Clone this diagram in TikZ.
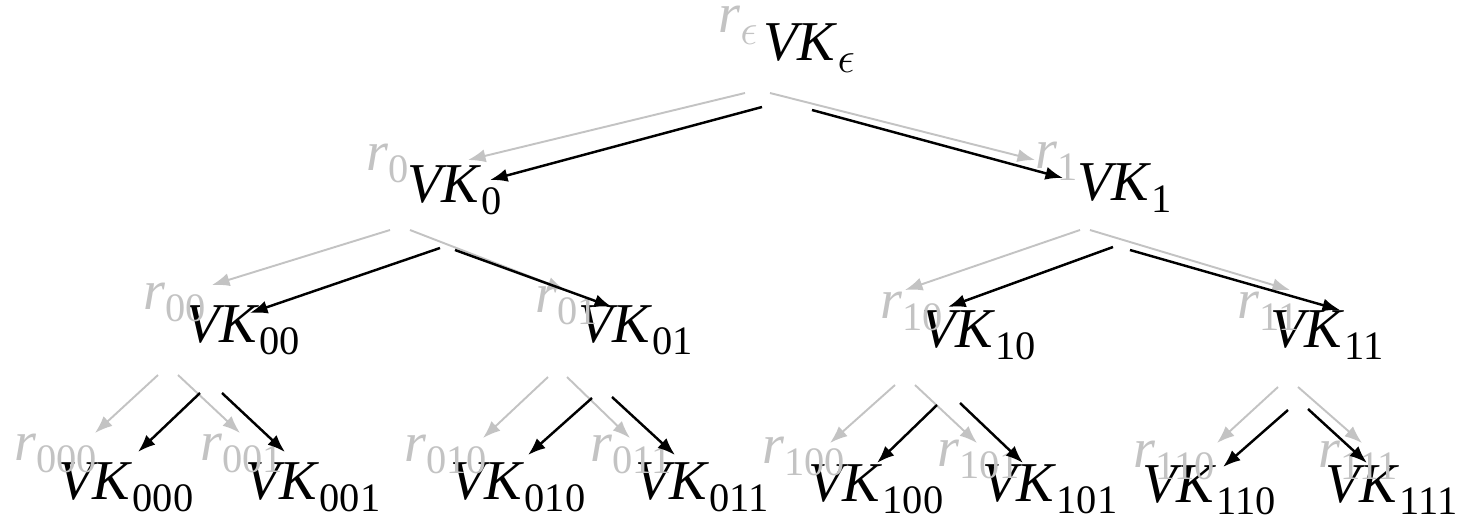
\documentclass[tikz,border=0pt]{standalone}
\usepackage{fontspec}
\setmainfont{Liberation Serif}
\usetikzlibrary{arrows.meta}

\definecolor{rgray}{RGB}{195,195,195}
\newcommand{\subsz}{\fontsize{23}{26}\selectfont}
\newcommand{\vk}[1]{\textit{VK}\raisebox{-7pt}{\subsz #1}}
\newcommand{\rk}[1]{\textit{r}\raisebox{-7pt}{\subsz #1}}

\begin{document}
\begin{tikzpicture}[
  x=0.02cm, y=-0.02cm,
  every node/.style = {anchor=base west, inner sep=0pt, font=\fontsize{32}{38}\selectfont},
  key/.style = {text=black},
  rlab/.style = {text=rgray},
  karrow/.style = {-{Latex[length=10pt,width=7.5pt]}, line width=1.4pt},
  rarrow/.style = {-{Latex[length=10pt,width=7.5pt]}, line width=1.1pt, draw=rgray}
]
\useasboundingbox (0,0) rectangle (1464,518);

% --- key nodes
\node[key] (ke)   at (763,60)   {\vk{$\epsilon$}};
\node[key] (k0)   at (407,202)  {\vk{0}};
\node[key] (k1)   at (1077,200) {\vk{1}};
\node[key] (k00)  at (185,342)  {\vk{00}};
\node[key] (k01)  at (578,342)  {\vk{01}};
\node[key] (k10)  at (921,347)  {\vk{10}};
\node[key] (k11)  at (1270,347) {\vk{11}};
\node[key] (k000) at (58,499)   {\vk{000}};
\node[key] (k001) at (245,499)  {\vk{001}};
\node[key] (k010) at (450,499)  {\vk{010}};
\node[key] (k011) at (635,499)  {\vk{011}};
\node[key] (k100) at (808,501)  {\vk{100}};
\node[key] (k101) at (982,501)  {\vk{101}};
\node[key] (k110) at (1142,502) {\vk{110}};
\node[key] (k111) at (1325,502) {\vk{111}};

% --- r labels
\node[rlab] (re)   at (718,32)   {\rk{$\epsilon$}};
\node[rlab] (r0)   at (366,170)  {\rk{0}};
\node[rlab] (r1)   at (1035,168) {\rk{1}};
\node[rlab] (r00)  at (143,309)  {\rk{00}};
\node[rlab] (r01)  at (535,312)  {\rk{01}};
\node[rlab] (r10)  at (880,318)  {\rk{10}};
\node[rlab] (r11)  at (1237,318) {\rk{11}};
\node[rlab] (r000) at (14,460)   {\rk{000}};
\node[rlab] (r001) at (200,460)  {\rk{001}};
\node[rlab] (r010) at (404,461)  {\rk{010}};
\node[rlab] (r011) at (590,461)  {\rk{011}};
\node[rlab] (r100) at (762,463)  {\rk{100}};
\node[rlab] (r101) at (937,466)  {\rk{101}};
\node[rlab] (r110) at (1133,467) {\rk{110}};
\node[rlab] (r111) at (1318,467) {\rk{111}};

% --- gray tree
\draw[rarrow] ([shift={(27,61)}]re.base west) -- ([shift={(102,-10)}]r0.base west);
\draw[rarrow] ([shift={(52,61)}]re.base west) -- ([shift={(0,-8)}]r1.base west);
\draw[rarrow] ([shift={(24,60)}]r0.base west) -- ([shift={(69,-24)}]r00.base west);
\draw[rarrow] ([shift={(44,60)}]r0.base west) -- ([shift={(30,-22)}]r01.base west);
\draw[rarrow] ([shift={(45,62)}]r1.base west) -- ([shift={(25,-28)}]r10.base west);
\draw[rarrow] ([shift={(55,62)}]r1.base west) -- ([shift={(53,-28)}]r11.base west);
\draw[rarrow] ([shift={(15,66)}]r00.base west) -- ([shift={(81,-27)}]r000.base west);
\draw[rarrow] ([shift={(35,66)}]r00.base west) -- ([shift={(40,-27)}]r001.base west);
\draw[rarrow] ([shift={(13,65)}]r01.base west) -- ([shift={(79,-23)}]r010.base west);
\draw[rarrow] ([shift={(32,65)}]r01.base west) -- ([shift={(40,-23)}]r011.base west);
\draw[rarrow] ([shift={(15,67)}]r10.base west) -- ([shift={(68,-20)}]r100.base west);
\draw[rarrow] ([shift={(35,67)}]r10.base west) -- ([shift={(40,-23)}]r101.base west);
\draw[rarrow] ([shift={(41,69)}]r11.base west) -- ([shift={(84,-24)}]r110.base west);
\draw[rarrow] ([shift={(61,69)}]r11.base west) -- ([shift={(44,-24)}]r111.base west);

% --- black tree
\draw[karrow] ([shift={(-1,47)}]ke.base west) -- ([shift={(83,-22)}]k0.base west);
\draw[karrow] ([shift={(49,50)}]ke.base west) -- ([shift={(-14,-22)}]k1.base west);
\draw[karrow] ([shift={(33,46)}]k0.base west) -- ([shift={(65,-29)}]k00.base west);
\draw[karrow] ([shift={(48,48)}]k0.base west) -- ([shift={(34,-35)}]k01.base west);
\draw[karrow] ([shift={(36,47)}]k1.base west) -- ([shift={(27,-40)}]k10.base west);
\draw[karrow] ([shift={(53,50)}]k1.base west) -- ([shift={(70,-37)}]k11.base west);
\draw[karrow] ([shift={(15,51)}]k00.base west) -- ([shift={(80,-47)}]k000.base west);
\draw[karrow] ([shift={(37,51)}]k00.base west) -- ([shift={(40,-47)}]k001.base west);
\draw[karrow] ([shift={(14,56)}]k01.base west) -- ([shift={(78,-44)}]k010.base west);
\draw[karrow] ([shift={(34,55)}]k01.base west) -- ([shift={(40,-44)}]k011.base west);
\draw[karrow] ([shift={(16,58)}]k10.base west) -- ([shift={(69,-38)}]k100.base west);
\draw[karrow] ([shift={(39,56)}]k10.base west) -- ([shift={(41,-38)}]k101.base west);
\draw[karrow] ([shift={(18,63)}]k11.base west) -- ([shift={(81,-35)}]k110.base west);
\draw[karrow] ([shift={(38,62)}]k11.base west) -- ([shift={(42,-39)}]k111.base west);

\end{tikzpicture}
\end{document}
